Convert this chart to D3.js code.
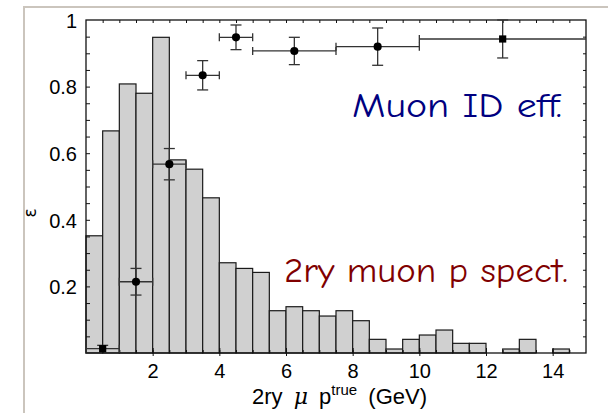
<!DOCTYPE html>
<html>
<head>
<meta charset="utf-8">
<script src="https://cdn.jsdelivr.net/npm/d3@7"></script>
<style>
  html, body { margin: 0; padding: 0; background: #fff; }
  svg { display: block; }
</style>
</head>
<body>
<svg id="chart" width="608" height="413"></svg>
<script>
// Secondary muon momentum spectrum: 0.5 GeV bins from 0 to 15 GeV
const binEdges = d3.range(0, 15.0001, 0.5);
const spectrum = [0.352, 0.667, 0.808, 0.780, 0.948, 0.580, 0.552, 0.466,
                  0.271, 0.254, 0.242, 0.127, 0.139, 0.127, 0.111, 0.127,
                  0.097, 0.041, 0.012, 0.041, 0.054, 0.069, 0.029, 0.029,
                  0.000, 0.012, 0.041, 0.000, 0.012, 0.000];

// Muon ID efficiency points
const effX    = [0.5, 1.5, 2.5, 3.5, 4.5, 6.25, 8.75, 12.5];
const effXLo  = [0.0, 1.0, 2.0, 3.0, 4.0, 5.0, 7.5, 10.0];
const effXHi  = [1.0, 2.0, 3.0, 4.0, 5.0, 7.5, 10.0, 15.0];
const effY    = [0.013, 0.214, 0.567, 0.834, 0.948, 0.907, 0.920, 0.943];
const effErr  = [0.010, 0.040, 0.047, 0.044, 0.037, 0.041, 0.056, 0.057];
const effMark = ["square", "circle", "circle", "circle", "circle", "circle", "circle", "square"];

const xTickLabels = [2, 4, 6, 8, 10, 12, 14];
const yTickLabels = [0.2, 0.4, 0.6, 0.8, 1];

const svg = d3.select("#chart");
const margin = { left: 86, right: 22, top: 20, bottom: 60 };
const W = 608, H = 413;

const x = d3.scaleLinear().domain([0, 15]).range([margin.left, W - margin.right]);
const y = d3.scaleLinear().domain([0, 1]).range([H - margin.bottom, margin.top]);

// outer slide frame
svg.append("path")
  .attr("d", `M24,${H} L24,7 L${W},7`)
  .attr("fill", "none")
  .attr("stroke", "#cbc5bd")
  .attr("stroke-width", 2);

// histogram
const bins = spectrum.map((v, i) => ({ x0: binEdges[i], x1: binEdges[i + 1], v }));
svg.append("g").selectAll("rect")
  .data(bins.filter(d => d.v > 0))
  .join("rect")
  .attr("x", d => x(d.x0))
  .attr("y", d => y(d.v))
  .attr("width", d => x(d.x1) - x(d.x0))
  .attr("height", d => y(0) - y(d.v))
  .attr("fill", "#d0d0d0")
  .attr("stroke", "#1a1a1a")
  .attr("stroke-width", 1.2);

// axes with inward ticks
const fontTicks = "'Liberation Sans', Arial, sans-serif";
function styleAxis(g) {
  g.select(".domain").remove();
  g.selectAll("line").attr("stroke", "#111").attr("stroke-width", 1);
  g.selectAll("text").attr("font-family", fontTicks).attr("font-size", 20).attr("fill", "#000");
}

const xMinor = d3.range(0.5, 15, 0.5);
const yMinor = d3.range(0.05, 1, 0.05);

// bottom
svg.append("g")
  .attr("transform", `translate(0,${y(0)})`)
  .call(d3.axisBottom(x).tickValues(xMinor).tickSize(-3).tickFormat(""))
  .call(styleAxis);
svg.append("g")
  .attr("transform", `translate(0,${y(0)})`)
  .call(d3.axisBottom(x).tickValues(xTickLabels).tickSizeInner(3).tickSizeOuter(0).tickPadding(8)
    .tickFormat(d3.format("d")))
  .call(styleAxis)
  .call(g => g.selectAll("line").attr("y1", -5));
// top
svg.append("g")
  .attr("transform", `translate(0,${y(1)})`)
  .call(d3.axisTop(x).tickValues(xMinor).tickSize(-3).tickFormat(""))
  .call(styleAxis);
// left
svg.append("g")
  .attr("transform", `translate(${x(0)},0)`)
  .call(d3.axisLeft(y).tickValues(yMinor).tickSize(-4).tickFormat(""))
  .call(styleAxis);
svg.append("g")
  .attr("transform", `translate(${x(0)},0)`)
  .call(d3.axisLeft(y).tickValues(yTickLabels).tickSize(0).tickPadding(9)
    .tickFormat(d => d === 1 ? "1" : d3.format(".1f")(d)))
  .call(styleAxis)
  .call(g => g.selectAll("text").attr("dy", "0.36em"));
// right
svg.append("g")
  .attr("transform", `translate(${x(15)},0)`)
  .call(d3.axisRight(y).tickValues(yMinor).tickSize(-3).tickFormat(""))
  .call(styleAxis);

// plot frame
svg.append("rect")
  .attr("x", x(0)).attr("y", y(1))
  .attr("width", x(15) - x(0)).attr("height", y(0) - y(1))
  .attr("fill", "none").attr("stroke", "#111").attr("stroke-width", 1.3);

// efficiency points with error bars
const pts = effX.map((v, i) => ({ x: v, lo: effXLo[i], hi: effXHi[i], y: effY[i], e: effErr[i], m: effMark[i] }));
const eg = svg.append("g").attr("stroke", "#333").attr("stroke-width", 1.3).attr("fill", "none");
pts.forEach(p => {
  const cy = y(p.y), cx = x(p.x);
  const xl = x(p.lo), xr = Math.min(x(p.hi), x(15));
  eg.append("line").attr("x1", xl).attr("x2", xr).attr("y1", cy).attr("y2", cy);
  eg.append("line").attr("x1", xl).attr("x2", xl).attr("y1", cy - 4).attr("y2", cy + 4);
  if (x(p.hi) < x(15)) eg.append("line").attr("x1", xr).attr("x2", xr).attr("y1", cy - 4).attr("y2", cy + 4);
  const yt = Math.max(y(p.y + p.e), y(1)), yb = y(Math.max(p.y - p.e, 0));
  eg.append("line").attr("x1", cx).attr("x2", cx).attr("y1", yt).attr("y2", yb);
  eg.append("line").attr("x1", cx - 5.5).attr("x2", cx + 5.5).attr("y1", yt).attr("y2", yt);
  if (p.y - p.e > 0.005) eg.append("line").attr("x1", cx - 5.5).attr("x2", cx + 5.5).attr("y1", yb).attr("y2", yb);
});
svg.append("g").selectAll("path")
  .data(pts)
  .join("path")
  .attr("transform", d => `translate(${x(d.x)},${y(d.y)})`)
  .attr("d", d => d3.symbol().type(d.m === "square" ? d3.symbolSquare : d3.symbolCircle).size(52)())
  .attr("fill", "#000");

// axis titles
svg.append("text")
  .attr("transform", `translate(36,213) rotate(-90)`)
  .attr("text-anchor", "middle")
  .attr("font-family", "'DejaVu Sans', sans-serif")
  .attr("font-size", 17)
  .text("ε");

const xt = svg.append("text")
  .attr("x", 252).attr("y", 404)
  .attr("font-family", fontTicks)
  .attr("font-size", 22)
  .attr("word-spacing", 5)
  .attr("fill", "#000");
xt.append("tspan").text("2ry ");
xt.append("tspan").attr("font-style", "italic").attr("font-family", "'DejaVu Serif', serif").text("μ");
xt.append("tspan").text(" p");
xt.append("tspan").attr("font-size", 15).attr("dy", -9).text("true");
xt.append("tspan").attr("dy", 9).text(" (GeV)");

// annotations
const handFont = "'Comic Sans MS', 'Comic Neue', 'DejaVu Sans', sans-serif";
svg.append("text")
  .attr("x", 352).attr("y", 117)
  .attr("font-family", handFont)
  .attr("font-size", 34)
  .attr("fill", "#000080")
  .attr("textLength", 210).attr("lengthAdjust", "spacingAndGlyphs")
  .text("Muon ID eff.");
svg.append("text")
  .attr("x", 284).attr("y", 282)
  .attr("font-family", handFont)
  .attr("font-size", 34)
  .attr("fill", "#800000")
  .attr("textLength", 284).attr("lengthAdjust", "spacingAndGlyphs")
  .text("2ry muon p spect.");
</script>
</body>
</html>
